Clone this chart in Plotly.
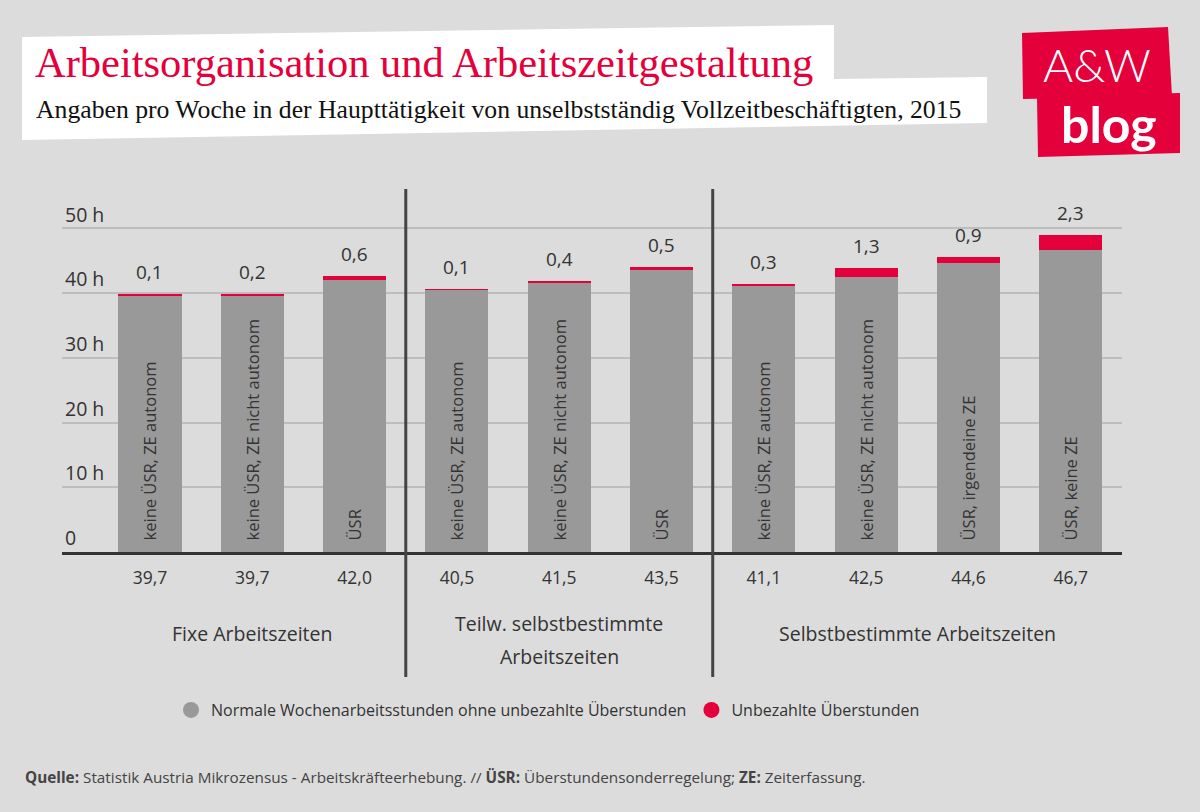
import plotly.graph_objects as go

# ---------------- data ----------------
groups = ["Fixe Arbeitszeiten", "Teilw. selbstbestimmte<br>Arbeitszeiten", "Selbstbestimmte Arbeitszeiten"]
group_sizes = [3, 3, 4]
categories = [
    "keine ÜSR, ZE autonom", "keine ÜSR, ZE nicht autonom", "ÜSR",
    "keine ÜSR, ZE autonom", "keine ÜSR, ZE nicht autonom", "ÜSR",
    "keine ÜSR, ZE autonom", "keine ÜSR, ZE nicht autonom", "ÜSR, irgendeine ZE", "ÜSR, keine ZE",
]
normal_hours = [39.7, 39.7, 42.0, 40.5, 41.5, 43.5, 41.1, 42.5, 44.6, 46.7]
unpaid_hours = [0.1, 0.2, 0.6, 0.1, 0.4, 0.5, 0.3, 1.3, 0.9, 2.3]
y_tickvals = [0, 10, 20, 30, 40, 50]
y_ticktext = ["0", "10 h", "20 h", "30 h", "40 h", "50 h"]

series_names = ["Normale Wochenarbeitsstunden ohne unbezahlte Überstunden", "Unbezahlte Überstunden"]

# ---------------- style ----------------
BG = "#dcdcdc"
GRAY = "#999999"
RED = "#e4003a"
TXT = "#333333"
FONT = "Open Sans"

W, H = 1200, 812
YMAX = 55
L, R, B = 62, 78, 260
T = round(H - B - YMAX * (324 / 50))
PW, PH = W - L - R, H - T - B


def px(xp):
    return (xp - L) / PW


def py(yp):
    return (H - B - yp) / PH


def fmt(v):
    return f"{v:.1f}".replace(".", ",")


xs = list(range(len(categories)))
totals = [a + b for a, b in zip(normal_hours, unpaid_hours)]

fig = go.Figure()
fig.add_trace(go.Bar(
    x=xs, y=normal_hours, name=series_names[0], marker=dict(color=GRAY, line=dict(width=0)),
    width=0.616, text=["\u00a0\u00a0" + c for c in categories], textposition="inside", insidetextanchor="start",
    textangle=-90, insidetextfont=dict(family=FONT, size=16.5, color=TXT),
    showlegend=False, hoverinfo="skip",
))
fig.add_trace(go.Bar(
    x=xs, y=unpaid_hours, name=series_names[1], marker=dict(color=RED, line=dict(width=0)),
    width=0.616, cliponaxis=False, showlegend=False, hoverinfo="skip",
))
# legend entries with circle symbols
for nm, col in zip(series_names, [GRAY, RED]):
    fig.add_trace(go.Scatter(
        x=[None], y=[None], mode="markers", name=nm,
        marker=dict(symbol="circle", size=22, color=col),
    ))

shapes = []
annotations = []

# value labels above the stacks
for x, t, u in zip(xs, totals, unpaid_hours):
    annotations.append(dict(
        x=x, y=t, xref="x", yref="y", text=fmt(u), showarrow=False, yanchor="bottom",
        yshift=7, font=dict(family=FONT, size=19, color=TXT),
    ))

# group labels and dividers
start = 0
for gi, (g, n) in enumerate(zip(groups, group_sizes)):
    center = start + (n - 1) / 2
    lines = g.split("<br>")
    if len(lines) == 1:
        ys = [633]
    else:
        ys = [623, 656]
    for line, yy in zip(lines, ys):
        annotations.append(dict(
            x=center, y=py(yy), xref="x", yref="paper", text=line, showarrow=False,
            font=dict(family=FONT, size=19.5, color=TXT), xanchor="center", yanchor="middle",
        ))
    if gi < len(groups) - 1:
        div = start + n - 0.5
        shapes.append(dict(type="line", xref="x", yref="paper", x0=div, x1=div,
                           y0=py(189), y1=py(677), line=dict(color="#444444", width=3)))
    start += n


# title boxes (white) and logo boxes
def path(points):
    return "M " + " L ".join(f"{px(a):.5f},{py(b):.5f}" for a, b in points) + " Z"


shapes.append(dict(type="path", xref="paper", yref="paper", line=dict(width=0), fillcolor="white", layer="below",
                   path=path([(22, 37), (834, 25), (834, 79), (987, 77), (987, 123), (22, 140)])))
shapes.append(dict(type="path", xref="paper", yref="paper", line=dict(width=0), fillcolor=RED,
                   path=path([(1022, 33), (1168, 27), (1172, 96), (1023, 99)])))
shapes.append(dict(type="path", xref="paper", yref="paper", line=dict(width=0), fillcolor=RED,
                   path=path([(1037, 97), (1180, 93), (1180, 153), (1038, 157)])))

annotations += [
    dict(x=px(33), y=py(62), xref="paper", yref="paper", xanchor="left", yanchor="middle", showarrow=False,
         text="Arbeitsorganisation und Arbeitszeitgestaltung",
         font=dict(family="Liberation Serif", size=42.5, color=RED)),
    dict(x=px(34), y=py(110), xref="paper", yref="paper", xanchor="left", yanchor="middle", showarrow=False,
         text="Angaben pro Woche in der Haupttätigkeit von unselbstständig Vollzeitbeschäftigten, 2015",
         font=dict(family="Liberation Serif", size=25.7, color="#111111")),
    dict(x=px(1097), y=py(64), xref="paper", yref="paper", xanchor="center", yanchor="middle", showarrow=False,
         text="A&amp;W", font=dict(family="Lato Light, Lato", size=46, color="white")),
    dict(x=px(1109), y=py(124), xref="paper", yref="paper", xanchor="center", yanchor="middle", showarrow=False,
         text="<b>blog</b>", font=dict(family="Lato", size=50, color="white")),
    dict(x=px(23), y=py(777), xref="paper", yref="paper", xanchor="left", yanchor="middle", showarrow=False,
         text="<b>Quelle:</b> Statistik Austria Mikrozensus - Arbeitskräfteerhebung. // <b>ÜSR:</b> Überstundensonderregelung; <b>ZE:</b> Zeiterfassung.",
         font=dict(family=FONT, size=15.3, color="#444444")),
]

fig.update_layout(
    width=W, height=H, paper_bgcolor=BG, plot_bgcolor=BG,
    margin=dict(l=L, r=R, t=T, b=B), barmode="stack",
    font=dict(family=FONT, color=TXT),
    shapes=shapes, annotations=annotations,
    legend=dict(orientation="h", x=px(171), y=py(710), xanchor="left", yanchor="middle",
                font=dict(family=FONT, size=16, color=TXT), bgcolor="rgba(0,0,0,0)",
                itemwidth=30, traceorder="normal"),
)
fig.update_xaxes(
    range=[-0.86, 9.5], tickvals=xs, ticktext=[fmt(v) for v in normal_hours],
    tickfont=dict(family=FONT, size=17.5, color=TXT), showgrid=False, zeroline=False,
    showline=True, linecolor="#333333", linewidth=3, ticks="", ticklabelstandoff=8,
)
fig.update_yaxes(
    range=[0, YMAX], tickvals=y_tickvals, ticktext=y_ticktext, ticklabelposition="inside top",
    tickfont=dict(family=FONT, size=19.5, color=TXT), showgrid=True, gridcolor="#bdbdbd", gridwidth=2,
    zeroline=False, showline=False, ticks="",
)

fig.write_html(
    "out.html",
    config={"displayModeBar": False},
    post_script="document.body.style.margin='0';document.body.style.overflow='hidden';"
                "document.body.style.background='" + BG + "';",
)
